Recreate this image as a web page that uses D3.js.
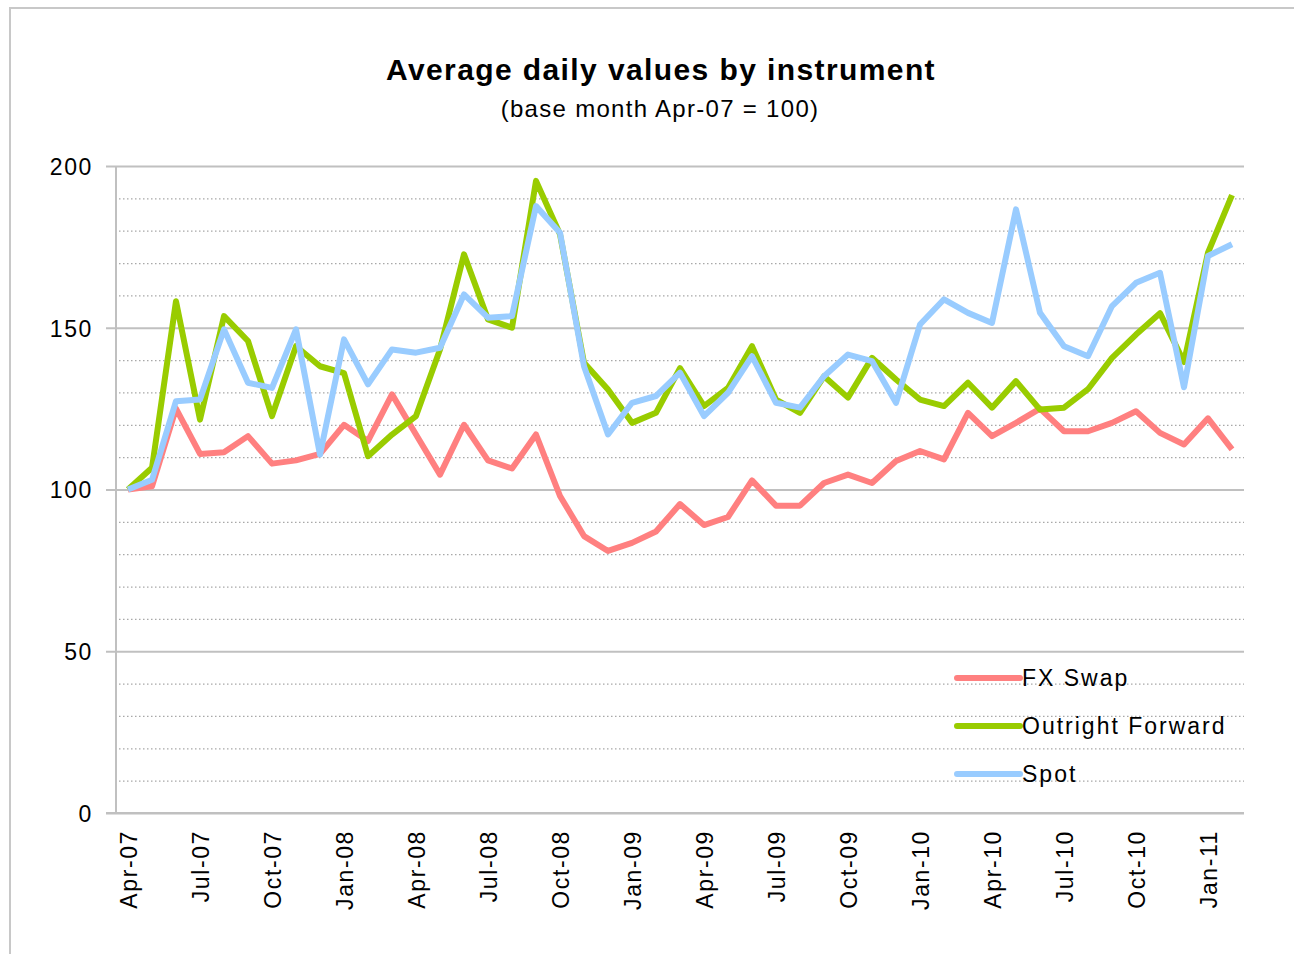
<!DOCTYPE html>
<html>
<head>
<meta charset="utf-8">
<script src="https://cdn.jsdelivr.net/npm/d3@7"></script>
<style>
  body { margin: 0; background: #fff; }
  svg text { font-family: "Liberation Sans", Arial, sans-serif; fill: #000; }
</style>
</head>
<body>
<div id="hook"></div>
<script>
var months = ["Apr-07","May-07","Jun-07","Jul-07","Aug-07","Sep-07","Oct-07","Nov-07","Dec-07",
  "Jan-08","Feb-08","Mar-08","Apr-08","May-08","Jun-08","Jul-08","Aug-08","Sep-08","Oct-08","Nov-08","Dec-08",
  "Jan-09","Feb-09","Mar-09","Apr-09","May-09","Jun-09","Jul-09","Aug-09","Sep-09","Oct-09","Nov-09","Dec-09",
  "Jan-10","Feb-10","Mar-10","Apr-10","May-10","Jun-10","Jul-10","Aug-10","Sep-10","Oct-10","Nov-10","Dec-10",
  "Jan-11","Feb-11"];
var tickMonths = ["Apr-07","Jul-07","Oct-07","Jan-08","Apr-08","Jul-08","Oct-08","Jan-09","Apr-09",
  "Jul-09","Oct-09","Jan-10","Apr-10","Jul-10","Oct-10","Jan-11"];
var fxSwap = [100,101,125,111,111.5,116.5,108,109,111,120,115,129.4,117,104.6,120,109,106.5,117,98,85.6,81,
  83.5,87,95.5,89,91.5,102.8,95,95,102,104.6,102,108.8,111.9,109.3,123.7,116.5,120.6,125,118,118,120.6,124.2,
  117.5,113.9,122,112.4];
var outright = [100,106.7,158.2,121.6,153.6,145.9,122.7,144.3,138.1,136,110.3,117,122.7,143.3,172.7,152.6,150,
  195.4,178.9,139.2,130.9,120.6,123.7,137.5,125.8,131.4,144.3,127.8,123.7,135,128.4,140.7,134,127.8,125.8,133,
  125.3,133.5,124.7,125.3,131,140.7,147.9,154.5,139.4,173.2,191];
var spot = [100,103,127.3,127.8,149.5,133,131.4,149.5,110.8,146.4,132.5,143.3,142.3,143.8,160.3,153.1,153.6,
  187.6,179.4,138.1,117,126.8,128.9,136.1,122.7,129.9,141.2,126.8,125.3,135,141.7,139.7,126.8,151,158.8,154.6,
  151.5,186.6,154.6,144.3,141.2,156.7,163.9,167,131.6,172.2,175.8];
var seriesNames = ["FX Swap", "Outright Forward", "Spot"];
var seriesColors = ["#ff8080", "#99cc00", "#99ccff"];
var majorTicks = [0, 50, 100, 150, 200];
var minorTicks = [10,20,30,40,60,70,80,90,110,120,130,140,160,170,180,190];

var W = 1294, H = 954;
var plotL = 116, plotR = 1244, plotT = 166, plotB = 813;

var svg = d3.select("#hook").append("svg").attr("width", W).attr("height", H);

// outer chart frame
svg.append("rect").attr("x", 10).attr("y", 8).attr("width", 1300).attr("height", 960)
  .attr("fill", "none").attr("stroke", "#c8c8c8").attr("stroke-width", 2);

var step = (plotR - plotL) / months.length;
var x = d3.scalePoint().domain(months).range([plotL + step / 2, plotR - step / 2]);
var y = d3.scaleLinear().domain([0, 200]).range([plotB, plotT]);

// dotted minor gridlines
svg.append("g").attr("transform", "translate(" + plotL + ",0)")
  .call(d3.axisLeft(y).tickValues(minorTicks).tickSize(-(plotR - plotL)).tickFormat(""))
  .call(function (g) {
    g.select(".domain").remove();
    g.selectAll("line").attr("x1", 3).attr("stroke", "#a8a8a8").attr("stroke-width", 1.2)
      .attr("stroke-dasharray", "1.5,2.5");
  });

// solid major gridlines + labels
svg.append("g").attr("transform", "translate(" + plotL + ",0)")
  .call(d3.axisLeft(y).tickValues(majorTicks).tickSize(-(plotR - plotL)).tickPadding(0))
  .call(function (g) {
    g.select(".domain").remove();
    g.selectAll("line").attr("x1", -10).attr("stroke", "#c0c0c0").attr("stroke-width", 2);
    g.selectAll("text").attr("x", -23).attr("dy", "0.36em")
      .style("font-size", "23px").style("letter-spacing", "1.6px").attr("fill", "#000");
  });

// y axis line
svg.append("line").attr("x1", plotL).attr("x2", plotL).attr("y1", plotT).attr("y2", plotB)
  .attr("stroke", "#c0c0c0").attr("stroke-width", 2);

// x axis
svg.append("g").attr("transform", "translate(0," + plotB + ")")
  .call(d3.axisBottom(x).tickValues(tickMonths).tickSize(0))
  .call(function (g) {
    g.select(".domain").attr("d", "M" + (plotL - 10) + ",0H" + plotR)
      .attr("stroke", "#c0c0c0").attr("stroke-width", 2);
    g.selectAll("text")
      .attr("transform", "rotate(-90)")
      .attr("x", -17).attr("y", 0).attr("dy", "0.36em")
      .attr("text-anchor", "end")
      .style("font-size", "23px").style("letter-spacing", "1.6px").attr("fill", "#000");
  });

// series lines
var line = d3.line().x(function (d, i) { return x(months[i]); }).y(function (d) { return y(d); });
[fxSwap, outright, spot].forEach(function (s, k) {
  svg.append("path").datum(s).attr("d", line)
    .attr("fill", "none").attr("stroke", seriesColors[k])
    .attr("stroke-width", 6).attr("stroke-linejoin", "round");
});

// title
svg.append("text").attr("x", 661).attr("y", 80).attr("text-anchor", "middle")
  .style("font-size", "30px").style("font-weight", "bold").style("letter-spacing", "1.4px")
  .text("Average daily values by instrument");
svg.append("text").attr("x", 660).attr("y", 117).attr("text-anchor", "middle")
  .style("font-size", "24px").style("letter-spacing", "1.3px")
  .text("(base month Apr-07 = 100)");

// legend
var legend = svg.append("g").selectAll("g").data(seriesNames).enter().append("g")
  .attr("transform", function (d, i) { return "translate(957," + (678 + i * 48) + ")"; });
legend.append("line").attr("x1", 0).attr("x2", 63).attr("y1", 0).attr("y2", 0)
  .attr("stroke", function (d, i) { return seriesColors[i]; }).attr("stroke-width", 6)
  .attr("stroke-linecap", "round");
legend.append("text").attr("x", 65).attr("y", 0).attr("dy", "0.36em")
  .style("font-size", "23px").style("letter-spacing", "2px")
  .text(function (d) { return d; });
</script>
</body>
</html>
